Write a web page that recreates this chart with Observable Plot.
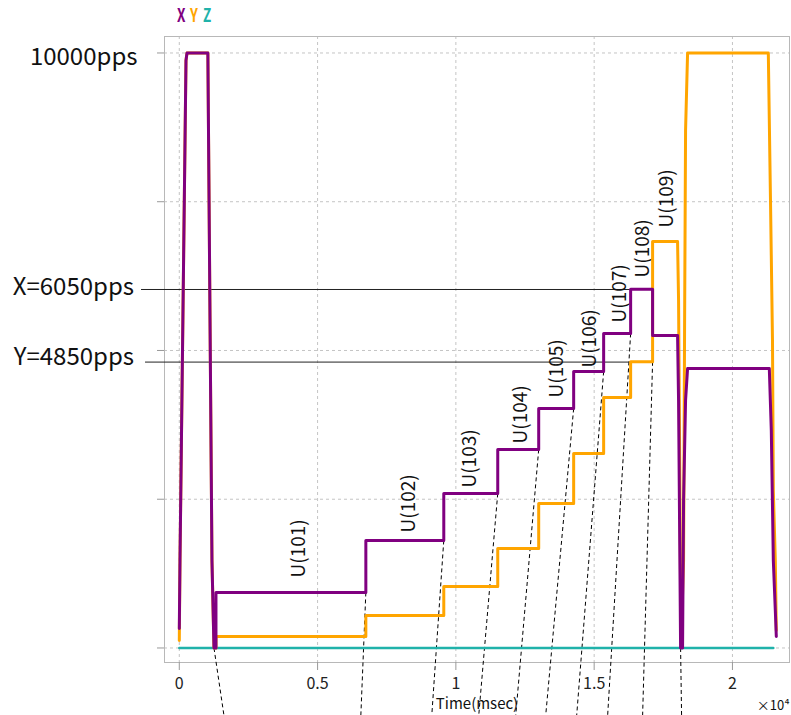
<!DOCTYPE html>
<html>
<head>
<meta charset="utf-8">
<script src="https://cdn.jsdelivr.net/npm/d3@7"></script>
<script src="https://cdn.jsdelivr.net/npm/@observablehq/plot@0.6"></script>
<style>
  body { margin: 0; background: #fff; }
  #wrap { position: relative; width: 791px; height: 715px; overflow: hidden; background: #fff; }
  #legend span { position: absolute; top: 5px; font: bold 18px "Noto Sans CJK JP", sans-serif; line-height: 1; transform: scaleX(0.75); transform-origin: left top; }
  #chart { position: absolute; left: 0; top: 0; }
</style>
</head>
<body>
<div id="wrap">
  <div id="chart"></div>
  <div id="legend"></div>
</div>
<script>
// ---- Data (time in msec, rate in pps) ----
const legendKeys = ["X", "Y", "Z"];
const legendColors = ["#800080", "#FFA500", "#20B2AA"];

const xT = [0, 25, 242, 278, 1033, 1181, 1254, 1326, 1326, 6745, 6745, 9563, 9563, 11514, 11514, 12995, 12995, 14259, 14259, 15343, 15343, 16319, 16319, 17113, 17113, 18016, 18052, 18125, 18197, 18233, 18305, 18378, 21297, 21333, 21405, 21478, 21550, 21586];
const xV = [328, 1471, 9874, 10000, 10000, 1471, 0, 0, 933, 933, 1807, 1807, 2597, 2597, 3336, 3336, 4025, 4025, 4647, 4647, 5286, 5286, 6030, 6030, 5252, 5252, 4160, 0, 0, 2479, 4160, 4697, 4697, 4697, 3655, 1471, 630, 193];

const yT = [0, 25, 242, 278, 1033, 1181, 1254, 1326, 1326, 6745, 6745, 9563, 9563, 11514, 11514, 12995, 12995, 14259, 14259, 15343, 15343, 16319, 16319, 17113, 17113, 18016, 18052, 18125, 18161, 18233, 18269, 18305, 18378, 21297, 21376, 21448, 21478, 21550, 21586];
const yV = [126, 1471, 9874, 10000, 10000, 1471, 0, 0, 193, 193, 546, 546, 1034, 1034, 1672, 1672, 2429, 2429, 3269, 3269, 4210, 4210, 4810, 4810, 6832, 6832, 5840, 966, 378, 1471, 5336, 8697, 10000, 10000, 7521, 5168, 2647, 1471, 294];

const zT = [0, 21478];
const zV = [0, 0];

const stepLabels = ["U(101)", "U(102)", "U(103)", "U(104)", "U(105)", "U(106)", "U(107)", "U(108)", "U(109)"];
const labelT = [4324, 8298, 10502, 12345, 13645, 14838, 15921, 16752, 17619];
const labelV = [1185, 1941, 2697, 3437, 4210, 4714, 5471, 6227, 7067];

const leaderT = [1254, 6745, 9563, 11514, 12995, 14259, 15343, 16319, 17113, 18125];
const leaderV = [0, 933, 1807, 2597, 3336, 4025, 4647, 5286, 4810, 0];
const leaderEndT = [1615, 6564, 9129, 10827, 12164, 13248, 14368, 15488, 16752, 18161];
const leaderEndV = -1134;

const annoText = ["X=6050pps", "Y=4850pps"];
const annoTextV = [6055, 4880];
const annoTextT = [-1637, -1637];
const annoLineV = [6025, 4805];
const annoLineStartT = [-1384, -1239];
const annoLineEndT = [16319, 16319];

const xTicks = [0, 5000, 10000, 15000, 20000];
const yTicks = [0, 2500, 5000, 7500, 10000];
const topLabel = "10000pps";
const xLabel = "Time(msec)";
const xExponent = "×10⁴";

// ---- Tables ----
const series = (T, V) => T.map((t, i) => ({t, v: V[i]}));
const X = series(xT, xV), Y = series(yT, yV), Z = series(zT, zV);
const labels = stepLabels.map((s, i) => ({s, t: labelT[i], v: labelV[i]}));
const leaders = leaderT.map((t, i) => ({t1: t, v1: leaderV[i], t2: leaderEndT[i], v2: leaderEndV}));
const annos = annoText.map((s, i) => ({s, t: annoTextT[i], v: annoTextV[i], lt1: annoLineStartT[i], lt2: annoLineEndT[i], lv: annoLineV[i]}));

const font = "'Noto Sans CJK JP', 'Noto Sans', sans-serif";

const chart = Plot.plot({
  width: 791,
  height: 715,
  marginLeft: 164,
  marginRight: 2,
  marginTop: 36,
  marginBottom: 53,
  style: {fontFamily: font, background: "white", overflow: "visible"},
  x: {domain: [-535, 22063]},
  y: {domain: [-244, 10277]},
  marks: [
    Plot.gridX(xTicks, {stroke: "#c4c4c4", strokeOpacity: 1, strokeDasharray: "3,3"}),
    Plot.gridY(yTicks, {stroke: "#c4c4c4", strokeOpacity: 1, strokeDasharray: "3,3"}),
    Plot.frame({stroke: "#b8b8b8"}),
    Plot.axisX(xTicks, {tickSize: 8, tickPadding: 7, tickFormat: d => String(d / 10000), fontSize: 16, stroke: "#999", fill: "#222", label: null}),
    Plot.axisY(yTicks, {tickSize: 7, tickFormat: () => "", stroke: "#999", label: null}),
    Plot.axisY([10000], {tickSize: 0, tickPadding: 27, tickFormat: () => topLabel, fontSize: 24, fill: "#111", dy: 4, label: null}),
    Plot.text([xLabel], {frameAnchor: "bottom", dy: 42, lineAnchor: "middle", fontSize: 15, fill: "#111"}),
    Plot.text([xExponent], {frameAnchor: "bottom-right", dy: 43, lineAnchor: "middle", textAnchor: "end", fontSize: 13, fill: "#111"}),
    Plot.link(leaders, {x1: "t1", y1: "v1", x2: "t2", y2: "v2", stroke: "black", strokeWidth: 1, strokeDasharray: "4,3"}),
    Plot.link(annos, {x1: "lt1", x2: "lt2", y1: "lv", y2: "lv", stroke: "#222", strokeWidth: 1}),
    Plot.text(annos, {x: "t", y: "v", text: "s", textAnchor: "end", fontSize: 24, fill: "#111"}),
    Plot.text(labels, {x: "t", y: "v", text: "s", rotate: -90, textAnchor: "start", fontSize: 19, fill: "#111", style: "letter-spacing:0.5px"}),
    Plot.line(Z, {x: "t", y: "v", stroke: legendColors[2], strokeWidth: 2.5}),
    Plot.line(Y, {x: "t", y: "v", stroke: legendColors[1], strokeWidth: 3}),
    Plot.line(X, {x: "t", y: "v", stroke: legendColors[0], strokeWidth: 3})
  ]
});
document.getElementById("chart").appendChild(chart);

const legend = document.getElementById("legend");
const legendLeft = [177, 190, 203];
legendKeys.forEach((k, i) => {
  const s = document.createElement("span");
  s.textContent = k;
  s.style.color = legendColors[i];
  s.style.left = legendLeft[i] + "px";
  legend.appendChild(s);
});
</script>
</body>
</html>
